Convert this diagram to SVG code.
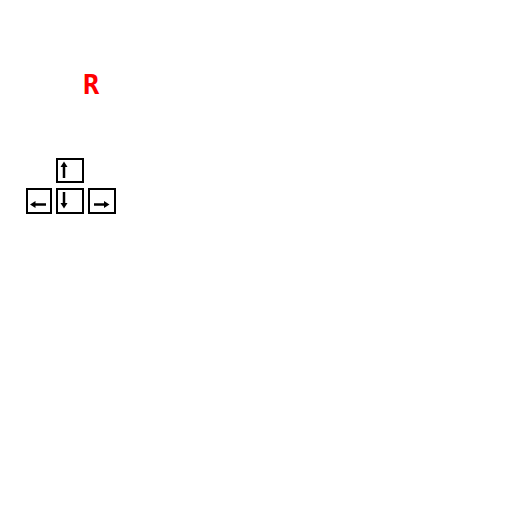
<svg xmlns="http://www.w3.org/2000/svg" width="512" height="512" viewBox="0 0 512 512">
<style>
.key{fill:#fff;stroke:#000;stroke-width:2}
.ar{stroke:#000;stroke-width:2.5;fill:none}
.hd{fill:#000}
.lbl{font-family:"DejaVu Sans Mono","Liberation Mono",monospace;font-weight:bold;font-size:27px;fill:#ff0000}
</style>
<rect width="512" height="512" fill="#fff"/>
<g id="label-r"><text class="lbl" x="83" y="94">R</text></g>
<g id="key-up">
<rect class="key" x="57" y="159" width="26" height="23"/>
<line class="ar" x1="64" y1="166" x2="64" y2="178"/>
<polygon class="hd" points="60.5,167 64,161.5 67.5,167"/>
</g>
<g id="key-left">
<rect class="key" x="27" y="189" width="24" height="24"/>
<line class="ar" x1="34" y1="204.5" x2="46" y2="204.5"/>
<polygon class="hd" points="35.5,201 30,204.5 35.5,208"/>
</g>
<g id="key-down">
<rect class="key" x="57" y="189" width="26" height="24"/>
<line class="ar" x1="64" y1="192" x2="64" y2="204"/>
<polygon class="hd" points="60.5,203 64,208.5 67.5,203"/>
</g>
<g id="key-right">
<rect class="key" x="89" y="189" width="26" height="24"/>
<line class="ar" x1="94" y1="204.5" x2="105" y2="204.5"/>
<polygon class="hd" points="104,201 109.5,204.5 104,208"/>
</g>
<g id="connectors"></g>
</svg>
